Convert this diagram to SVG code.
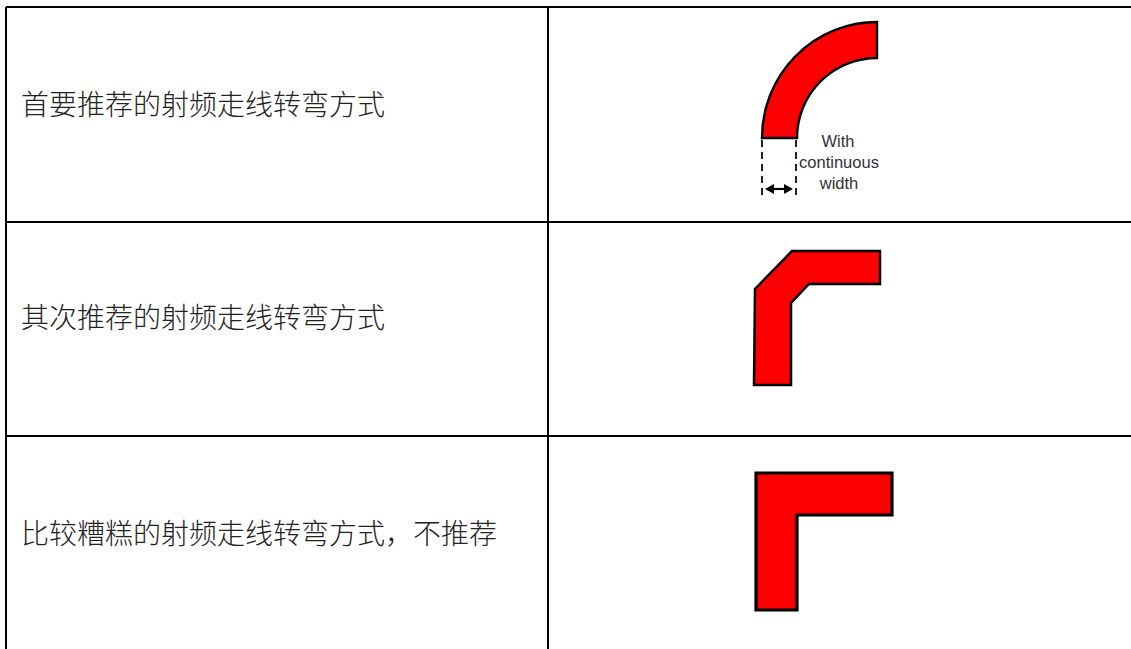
<svg xmlns="http://www.w3.org/2000/svg" width="1131" height="649" viewBox="0 0 1131 649">
<style>
.grid{stroke:#000;stroke-width:2;fill:none}
.lab{font-family:"Noto Sans CJK SC","Noto Sans",sans-serif;font-size:28px;font-weight:300;fill:#222}
.en{font-family:"Liberation Sans",Arial,sans-serif;font-size:16.5px;fill:#333;text-anchor:middle}
.bend{fill:#f00;stroke:#000;stroke-linejoin:miter}
.dash{stroke:#222;stroke-width:2;stroke-dasharray:7 5;fill:none}
</style>
<rect width="1131" height="649" fill="#fff"/>
<g id="connectors">
<path class="grid" d="M6 7H1131M6 222H1131M6 436H1131M6 7V649M548 7V649"/>
</g>
<g id="row1">
<text class="lab" x="21" y="115">首要推荐的射频走线转弯方式</text>
<path class="bend" stroke-width="2.4" d="M877 22V58A80 80 0 0 0 797 138H762A115 116 0 0 1 877 22Z"/>
<path class="dash" d="M762 140V196M796 140V196"/>
<path d="M768 189H790" stroke="#000" stroke-width="2.2" fill="none"/>
<path d="M765 189L774 184V194ZM793 189L784 184V194Z" fill="#000"/>
<text class="en" x="838" y="147">With</text>
<text class="en" x="839" y="168">continuous</text>
<text class="en" x="839" y="189">width</text>
</g>
<g id="row2">
<text class="lab" x="21" y="328">其次推荐的射频走线转弯方式</text>
<path class="bend" stroke-width="2.5" d="M792 251H880V284H809L791 303V385H754L755 289Z"/>
</g>
<g id="row3">
<text class="lab" x="21" y="544">比较糟糕的射频走线转弯方式，不推荐</text>
<path class="bend" stroke-width="3.2" d="M756 473H892V515H797V610H756Z"/>
</g>
</svg>
